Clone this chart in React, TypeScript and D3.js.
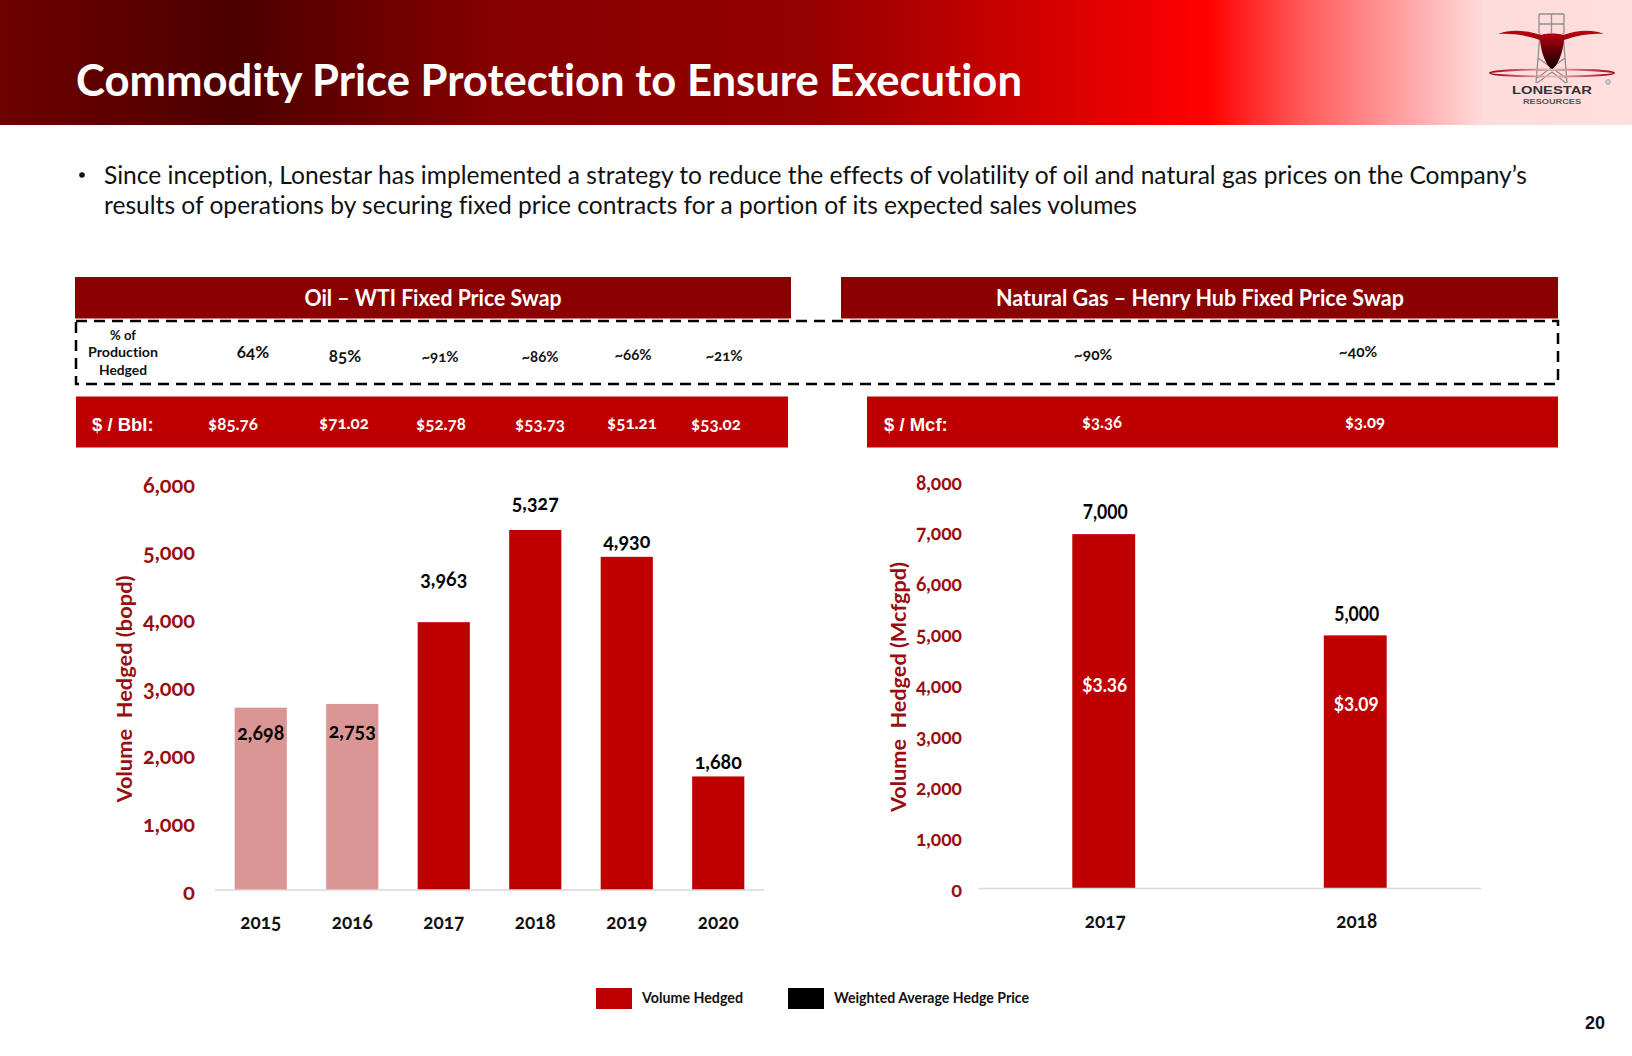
import React from "react";
import * as d3 from "d3";

const oilYears = ["2015", "2016", "2017", "2018", "2019", "2020"];
const oilVolumes = [2698, 2753, 3963, 5327, 4930, 1680];
const oilPct = ["64%", "85%", "~91%", "~86%", "~66%", "~21%"];
const oilPrices = ["$85.76", "$71.02", "$52.78", "$53.73", "$51.21", "$53.02"];
const gasYears = ["2017", "2018"];
const gasVolumes = [7000, 5000];
const gasPct = ["~90%", "~40%"];
const gasPrices = ["$3.36", "$3.09"];
const oilTicks = [0, 1000, 2000, 3000, 4000, 5000, 6000];
const gasTicks = [0, 1000, 2000, 3000, 4000, 5000, 6000, 7000, 8000];
const bullet1 = "Since inception, Lonestar has implemented a strategy to reduce the effects of volatility of oil and natural gas prices on the Company’s";
const bullet2 = "results of operations by securing fixed price contracts for a portion of its expected sales volumes";

// layout of the hand-placed labels of the slide
const oilPctPos = [[253, 351], [345, 355], [440, 356], [540, 356], [633, 354], [724, 355]];
const oilPricePos = [[233, 423], [344, 422], [441, 423], [540, 423], [632, 422], [716, 423]];
const gasPctPos = [[1093, 354], [1358, 351]];
const gasPricePos = [[1102, 421], [1365, 421]];
const oilLabelY = [731.5, 729.5, 577.5, 501.5, 539.5, 760.5];
const gasLabelY = [511, 613];
const gasInnerY = [684, 703];

const FONT = "Lato, 'Open Sans', sans-serif";
const DARK = "#8b0000";
const RED = "#bf0000";
const PALE = "#d99694";
const AXIS_RED = "#990f0f";

const oilX = d3.scaleBand().domain(oilYears).range([215, 764]).paddingInner(0.43).paddingOuter(0.215);
const oilY = d3.scaleLinear().domain([0, 6000]).range([890, 484.5]);
const oilTickY = d3.scaleLinear().domain([0, 6000]).range([891, 484]);
const gasX = d3.scaleBand().domain(gasYears).range([978, 1481]).paddingInner(0.75).paddingOuter(0.375);
const gasY = d3.scaleLinear().domain([0, 8000]).range([888.5, 483.5]);
const gasTickY = d3.scaleLinear().domain([0, 8000]).range([888.5, 481.5]);
const fmt = d3.format(",");

const T = ({ style, ...p }: any) => (
  <text fontFamily={FONT} textAnchor="middle" dominantBaseline="central"
    style={{ fontFeatureSettings: '"onum" 1, "liga" 0, "dlig" 0', whiteSpace: "pre", ...style }} {...p} />
);

export default function App() {
  return (
    <svg width={1632} height={1056} viewBox="0 0 1632 1056"
      style={{ position: "absolute", left: 0, top: 0, display: "block", background: "#fff" }}>
      <defs>
        <linearGradient id="hdr" x1="0" x2="1" y1="0" y2="0">
          <stop offset="0" stopColor="#6e0000" />
          <stop offset="0.145" stopColor="#4c0000" />
          <stop offset="0.3" stopColor="#850000" />
          <stop offset="0.5" stopColor="#960000" />
          <stop offset="0.74" stopColor="#ff0000" />
          <stop offset="0.8" stopColor="#ff5c5c" />
          <stop offset="0.91" stopColor="#ffdcdc" />
          <stop offset="1" stopColor="#ffdede" />
        </linearGradient>
        <linearGradient id="head" x1="0" x2="0" y1="0" y2="1">
          <stop offset="0" stopColor="#c00010" />
          <stop offset="1" stopColor="#100000" />
        </linearGradient>
        <linearGradient id="ring" x1="0" x2="1" y1="0" y2="0">
          <stop offset="0" stopColor="#a00010" />
          <stop offset="0.5" stopColor="#e8c0c0" />
          <stop offset="1" stopColor="#a00010" />
        </linearGradient>
      </defs>

      <rect x={0} y={0} width={1632} height={125} fill="url(#hdr)" />
      <T x={76} y={79} textAnchor="start" fill="#fff" fontWeight={700} fontSize={44} textLength={946} lengthAdjust="spacingAndGlyphs">
        Commodity Price Protection to Ensure Execution
      </T>

      {/* logo */}
      <g fill="none" stroke="#8f8f8f" strokeWidth={1.3}>
        <path d="M1539 14H1564M1539 14V33M1564 14V33M1551.5 14V33M1539 24H1564" />
        <path d="M1540 33L1536 83M1563 33L1567 83M1538 58L1566 78M1565 58L1537 78M1537 70H1566M1537 83L1552 72M1566 83L1552 72" />
      </g>
      <ellipse cx={1552} cy={73} rx={62} ry={3.5} fill="none" stroke="url(#ring)" strokeWidth={1.8} />
      <path d="M1498 34C1510 29 1526 30 1541 35C1546 33 1558 33 1563 35C1578 30 1592 29 1604 34C1592 33 1578 35 1564 40C1563 52 1558 66 1552 69C1546 66 1541 52 1540 40C1526 35 1510 33 1498 34Z" fill="url(#head)" />
      <circle cx={1608} cy={82} r={2.5} fill="#c8c8c8" stroke="#999" strokeWidth={0.6} />
      <text x={1552} y={94} textAnchor="middle" fontFamily="'Liberation Sans', sans-serif" fontWeight={700} fontSize={11} fill="#333" textLength={80} lengthAdjust="spacingAndGlyphs">LONESTAR</text>
      <text x={1552} y={104} textAnchor="middle" fontFamily="'Liberation Sans', sans-serif" fontWeight={700} fontSize={7} fill="#555" textLength={58} lengthAdjust="spacingAndGlyphs">RESOURCES</text>

      {/* bullet */}
      <circle cx={82} cy={175} r={2.8} fill="#111" />
      <T x={104} y={174} textAnchor="start" fill="#111" fontSize={25} textLength={1423} lengthAdjust="spacingAndGlyphs">{bullet1}</T>
      <T x={104} y={204} textAnchor="start" fill="#111" fontSize={25} textLength={1033} lengthAdjust="spacingAndGlyphs">{bullet2}</T>

      {/* header bars */}
      <rect x={75} y={277} width={716} height={41.5} fill={DARK} />
      <rect x={841} y={277} width={717} height={41.5} fill={DARK} />
      <T x={433} y={297.5} fill="#fff" fontWeight={700} fontSize={22} textLength={257} lengthAdjust="spacingAndGlyphs">Oil – WTI Fixed Price Swap</T>
      <T x={1200} y={297.5} fill="#fff" fontWeight={700} fontSize={22} textLength={408} lengthAdjust="spacingAndGlyphs">Natural Gas – Henry Hub Fixed Price Swap</T>

      <rect x={76} y={321} width={1482} height={63} fill="none" stroke="#000" strokeWidth={2.5} strokeDasharray="11 7" />
      <T x={123} y={335} fill="#111" fontWeight={700} fontSize={13.5} textLength={26} lengthAdjust="spacingAndGlyphs">% of</T>
      <T x={123} y={352} fill="#111" fontWeight={700} fontSize={13.5} textLength={70} lengthAdjust="spacingAndGlyphs">Production</T>
      <T x={123} y={370} fill="#111" fontWeight={700} fontSize={13.5} textLength={48} lengthAdjust="spacingAndGlyphs">Hedged</T>
      {oilPct.map((t, i) => (
        <T key={t} x={oilPctPos[i][0]} y={oilPctPos[i][1]} fill="#111" fontWeight={700} fontSize={i < 2 ? 17 : 15}>{t}</T>
      ))}
      {gasPct.map((t, i) => (
        <T key={t} x={gasPctPos[i][0]} y={gasPctPos[i][1]} fill="#111" fontWeight={700} fontSize={15.5}>{t}</T>
      ))}

      <rect x={76} y={396.5} width={712} height={51} fill={RED} />
      <rect x={867} y={396.5} width={691} height={51} fill={RED} />
      <text x={92} y={424} dominantBaseline="central" fill="#fff" fontFamily="'Liberation Sans', sans-serif" fontWeight={700} fontSize={18.5}>$ / Bbl:</text>
      <text x={884} y={424} dominantBaseline="central" fill="#fff" fontFamily="'Liberation Sans', sans-serif" fontWeight={700} fontSize={18.5}>$ / Mcf:</text>
      {oilPrices.map((t, i) => (
        <T key={t} x={oilPricePos[i][0]} y={oilPricePos[i][1]} fill="#fff" fontWeight={700} fontSize={17.5} textLength={50} lengthAdjust="spacingAndGlyphs">{t}</T>
      ))}
      {gasPrices.map((t, i) => (
        <T key={t} x={gasPricePos[i][0]} y={gasPricePos[i][1]} fill="#fff" fontWeight={700} fontSize={17.5} textLength={40} lengthAdjust="spacingAndGlyphs">{t}</T>
      ))}

      {/* oil chart */}
      {oilTicks.map((t) => (
        <T key={t} x={195} y={oilTickY(t)} textAnchor="end" fill={AXIS_RED} fontWeight={700} fontSize={22}
          {...(t ? { textLength: 52, lengthAdjust: "spacingAndGlyphs" } : {})}>{fmt(t)}</T>
      ))}
      <T x={123.5} y={689} transform="rotate(-90 123.5 689)" fill={AXIS_RED} fontWeight={700} fontSize={21} textLength={227} lengthAdjust="spacingAndGlyphs">{"Volume  Hedged (bopd)"}</T>
      {oilYears.map((y, i) => (
        <rect key={y} x={oilX(y)} y={oilY(oilVolumes[i])} width={oilX.bandwidth()} height={oilY(0) - oilY(oilVolumes[i])} fill={i < 2 ? PALE : RED} />
      ))}
      <line x1={215} x2={764} y1={890} y2={890} stroke="#d9d9d9" strokeWidth={1.5} />
      {oilYears.map((y, i) => (
        <React.Fragment key={y}>
          <T x={oilX(y)! + oilX.bandwidth() / 2} y={oilLabelY[i]} fill="#000" fontWeight={700} fontSize={21.5} textLength={47} lengthAdjust="spacingAndGlyphs">{fmt(oilVolumes[i])}</T>
          <T x={oilX(y)! + oilX.bandwidth() / 2} y={920} fill="#111" fontWeight={700} fontSize={21} textLength={41} lengthAdjust="spacingAndGlyphs">{y}</T>
        </React.Fragment>
      ))}

      {/* gas chart */}
      {gasTicks.map((t) => (
        <T key={t} x={962} y={gasTickY(t)} textAnchor="end" fill={AXIS_RED} fontWeight={700} fontSize={20}
          {...(t ? { textLength: 46, lengthAdjust: "spacingAndGlyphs" } : {})}>{fmt(t)}</T>
      ))}
      <T x={897} y={687} transform="rotate(-90 897 687)" fill={AXIS_RED} fontWeight={700} fontSize={21} textLength={250} lengthAdjust="spacingAndGlyphs">{"Volume  Hedged (Mcfgpd)"}</T>
      {gasYears.map((y, i) => (
        <rect key={y} x={gasX(y)} y={gasY(gasVolumes[i])} width={gasX.bandwidth()} height={gasY(0) - gasY(gasVolumes[i])} fill={RED} />
      ))}
      <line x1={978} x2={1481} y1={888.5} y2={888.5} stroke="#d9d9d9" strokeWidth={1.5} />
      {gasYears.map((y, i) => (
        <React.Fragment key={y}>
          <T x={gasX(y)! + gasX.bandwidth() / 2 + 1.5} y={gasLabelY[i]} fill="#000" style={{ fontFeatureSettings: '"lnum" 1' }} fontWeight={700} fontSize={20} textLength={45} lengthAdjust="spacingAndGlyphs">{fmt(gasVolumes[i])}</T>
          <T x={gasX(y)! + gasX.bandwidth() / 2 + 1} y={gasInnerY[i]} fill="#fff" style={{ fontFeatureSettings: '"lnum" 1' }} fontWeight={700} fontSize={19.5} textLength={45} lengthAdjust="spacingAndGlyphs">{gasPrices[i]}</T>
          <T x={gasX(y)! + gasX.bandwidth() / 2 + 1.5} y={919} fill="#111" fontWeight={700} fontSize={21} textLength={41} lengthAdjust="spacingAndGlyphs">{y}</T>
        </React.Fragment>
      ))}

      {/* legend */}
      <rect x={596} y={988} width={36} height={21} fill={RED} />
      <T x={642} y={997} textAnchor="start" fill="#111" fontWeight={700} fontSize={14.5} textLength={101} lengthAdjust="spacingAndGlyphs">Volume Hedged</T>
      <rect x={788} y={988} width={36} height={21} fill="#000" />
      <T x={834} y={997} textAnchor="start" fill="#111" fontWeight={700} fontSize={14.5} textLength={195} lengthAdjust="spacingAndGlyphs">Weighted Average Hedge Price</T>
      <text x={1605} y={1023} textAnchor="end" dominantBaseline="central" fontFamily="'Liberation Sans', sans-serif" fontWeight={700} fontSize={18} fill="#111">20</text>
    </svg>
  );
}
